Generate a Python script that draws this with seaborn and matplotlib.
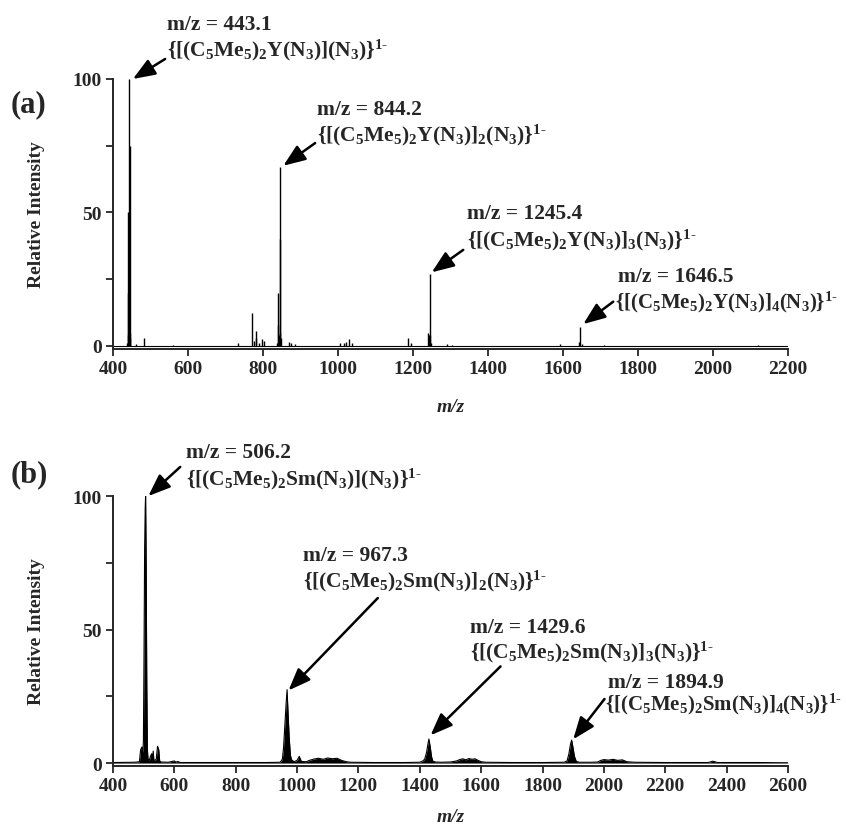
import numpy as np
import seaborn as sns
import matplotlib.pyplot as plt
import matplotlib.ticker as mticker

# (a) Y complex: stick spectrum
mz_a = [437, 439, 440, 441, 443.1, 444, 445, 446, 460, 483, 560, 732,
        771, 776, 780, 782, 790, 797, 803, 836, 839, 840, 842, 844.2, 845,
        846, 847, 868, 875, 885, 1005, 1015, 1022, 1030, 1036, 1187, 1195,
        1241, 1243, 1245.4, 1246, 1248, 1290, 1303, 1592, 1643, 1646.5, 1650,
        1710, 2120]
int_a = [1, 50, 20, 4, 100, 75, 5, 3, 0.8, 3, 0.5, 1,
         12.5, 2, 5.5, 3, 1, 2.5, 2, 1, 20, 8, 4, 67, 40,
         5, 3, 1.5, 1, 0.8, 1, 1.2, 1.5, 2.5, 1, 3, 1,
         5, 4, 27, 4, 1, 0.6, 0.5, 0.7, 1.5, 7, 0.8,
         0.5, 0.4]

# (b) Sm complex: profile spectrum
mz_b = [400, 470, 486, 490, 494, 497, 499, 501, 503, 505, 506.2, 508, 510, 512,
        514, 518, 522, 526, 528, 531, 533, 537, 541, 545, 549, 552, 556, 580,
        600, 605, 610, 620, 700, 800, 900, 945, 952, 956, 960, 964, 967.3, 970,
        974, 978, 982, 990, 1000, 1007, 1014, 1030, 1040, 1055, 1070, 1085,
        1100, 1115, 1130, 1145, 1160, 1175, 1250, 1350, 1400, 1410, 1416, 1422,
        1427, 1429.6, 1434, 1438, 1442, 1450, 1470, 1500, 1520, 1530, 1540,
        1550, 1560, 1570, 1580, 1590, 1600, 1615, 1700, 1800, 1870, 1880, 1886,
        1891, 1894.9, 1899, 1904, 1910, 1920, 1960, 1980, 1990, 2000, 2015,
        2030, 2045, 2060, 2075, 2100, 2200, 2340, 2355, 2370, 2450, 2500, 2600]
int_b = [0.2, 0.3, 0.5, 5, 6, 4, 8, 40, 80, 96, 100, 75, 30, 5,
         1.5, 1, 2.5, 3.5, 1, 4.5, 1.2, 1, 1.5, 6.3, 5, 0.8, 0.4, 0.3,
         0.8, 0.3, 0.6, 0.2, 0.2, 0.2, 0.2, 0.3, 1.5, 6, 14, 22, 27.5, 20,
         10, 3, 1.2, 0.5, 1, 2.5, 0.6, 0.5, 1, 1.5, 1.8, 1.4,
         1.9, 1.6, 1.8, 1.0, 0.5, 0.3, 0.2, 0.2, 0.3, 0.8, 1.5, 4,
         7.5, 9, 6, 2.5, 0.8, 0.4, 0.3, 0.4, 0.8, 1.3, 1.6,
         1.2, 1.7, 1.4, 1.6, 1.0, 0.5, 0.3, 0.2, 0.2, 0.3, 0.8, 3.5,
         7, 8.6, 6, 2.5, 0.6, 0.3, 0.3, 0.4, 1.0, 1.3, 1.1,
         1.4, 1.0, 1.2, 0.5, 0.3, 0.2, 0.2, 0.7, 0.2, 0.2, 0.2, 0.1]

labels_a = ["m/z = 443.1", "m/z = 844.2", "m/z = 1245.4", "m/z = 1646.5"]
formulas_a = [r"$\mathrm{\{[(C_5Me_5)_2Y(N_3)](N_3)\}^{1‐}}$",
              r"$\mathrm{\{[(C_5Me_5)_2Y(N_3)]_2(N_3)\}^{1‐}}$",
              r"$\mathrm{\{[(C_5Me_5)_2Y(N_3)]_3(N_3)\}^{1‐}}$",
              r"$\mathrm{\{[(C_5Me_5)_2Y(N_3)]_4(N_3)\}^{1‐}}$"]
labels_b = ["m/z = 506.2", "m/z = 967.3", "m/z = 1429.6", "m/z = 1894.9"]
formulas_b = [r"$\mathrm{\{[(C_5Me_5)_2Sm(N_3)](N_3)\}^{1‐}}$",
              r"$\mathrm{\{[(C_5Me_5)_2Sm(N_3)]_2(N_3)\}^{1‐}}$",
              r"$\mathrm{\{[(C_5Me_5)_2Sm(N_3)]_3(N_3)\}^{1‐}}$",
              r"$\mathrm{\{[(C_5Me_5)_2Sm(N_3)]_4(N_3)\}^{1‐}}$"]

sns.set_style("ticks")
plt.rcParams['font.family'] = ['Liberation Serif', 'DejaVu Serif']
plt.rcParams['font.weight'] = 'bold'
plt.rcParams['mathtext.fontset'] = 'custom'
plt.rcParams['mathtext.rm'] = 'Liberation Serif:bold'
plt.rcParams['mathtext.it'] = 'Liberation Serif:italic:bold'
plt.rcParams['mathtext.bf'] = 'Liberation Serif:bold'

fig = plt.figure(figsize=(8.46, 8.28), dpi=100)
ax_a = fig.add_axes([0.1336, 0.5777, 0.7978, 0.3257])
ax_b = fig.add_axes([0.1336, 0.0740, 0.7978, 0.3257])

# (a) sticks
ax_a.vlines(mz_a, 0, int_a, color='black', lw=1.0)
ax_a.axhline(0, color='black', lw=0.8)
ax_a.set_xlim(400, 2200)

# (b) profile
sns.lineplot(x=mz_b, y=int_b, ax=ax_b, color='black', lw=0.8, sort=False)
ax_b.fill_between(mz_b, 0, int_b, color='black', lw=0)
ax_b.set_xlim(400, 2600)

for ax, xpad in ((ax_a, 15), (ax_b, 10)):
    ax.set_ylim(-1, 100)
    ax.xaxis.set_major_locator(mticker.MultipleLocator(200))
    ax.yaxis.set_major_locator(mticker.FixedLocator([0, 50, 100]))
    ax.yaxis.set_minor_locator(mticker.FixedLocator([25, 75]))
    ax.tick_params(which='both', direction='out', length=5, width=1.3,
                   labelsize=14, pad=3)
    for lab in ax.get_xticklabels() + ax.get_yticklabels():
        lab.set_fontweight('bold')
    sns.despine(ax=ax)
    ax.spines['left'].set_linewidth(1.4)
    ax.spines['bottom'].set_linewidth(1.4)
    ax.set_ylabel("Relative Intensity", fontsize=14, fontweight='bold', labelpad=20)
    ax.set_xlabel("m/z", fontsize=14, fontweight='bold', style='italic', labelpad=xpad)

arrow = dict(arrowstyle='-|>,head_length=0.9,head_width=0.35', color='black',
             lw=1.8, mutation_scale=15, shrinkA=0, shrinkB=0)

# label positions (data coords): text x, title y, formula y, arrow tail, arrow tip
pos_a = [(544, 118.7, 109.0, (539, 107.5), (453, 100)),
         (944, 86.9, 76.9, (939, 76), (854, 67.5)),
         (1343, 47.8, 37.9, (1334, 36), (1250, 27.6)),
         (1748, 24.5, 14.5, (1734, 16.6), (1654, 8.2))]
pos_b = [(638, 114.6, 104.4, (619, 110.9), (515, 100)),
         (1018, 75.9, 66.2, (1263, 61.8), (972, 27.2)),
         (1563, 49.1, 39.7, (1663, 36.2), (1435, 10.4)),
         (2013, 28.5, 20.3, (2002, 24), (1900, 8.9))]

for ax, labels, formulas, pos in ((ax_a, labels_a, formulas_a, pos_a),
                                  (ax_b, labels_b, formulas_b, pos_b)):
    for lab, form, (tx, ty1, ty2, tail, tip) in zip(labels, formulas, pos):
        ax.text(tx, ty1, lab, fontsize=15.5, fontweight='bold', va='baseline',
                ha='left', clip_on=False)
        last = lab.endswith(("1646.5", "1894.9"))
        fx = tx - 8 if last else tx
        ax.text(fx, ty2, form, fontsize=15 if last else 15.5, va='baseline',
                ha='left', clip_on=False)
        ax.annotate("", xy=tip, xytext=tail, arrowprops=arrow,
                    annotation_clip=False)

fig.text(0.012, 0.865, "(a)", fontsize=22, fontweight='bold')
fig.text(0.012, 0.418, "(b)", fontsize=22, fontweight='bold')

fig.savefig("out.png", dpi=100)
